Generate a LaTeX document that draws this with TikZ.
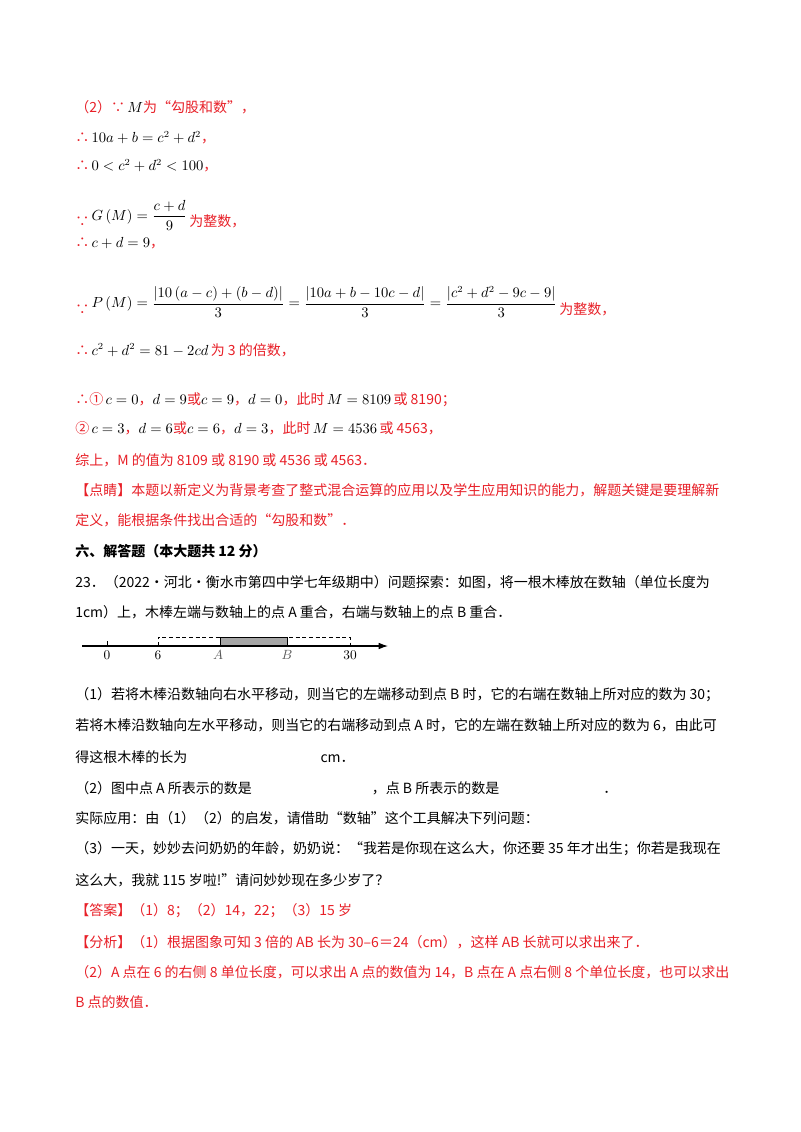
\documentclass[tikz,border=0pt]{standalone}
\usepackage{amsmath}
\usepackage{fontspec}
\setmainfont{Noto Sans CJK SC}
\usetikzlibrary{arrows.meta}
\definecolor{rd}{RGB}{232,32,40}
\begin{document}
\begin{tikzpicture}[x=0.75pt,y=-0.75pt,
  t/.style={anchor=west,inner sep=0pt,font=\fontsize{10.5}{12}\selectfont},
  r/.style={t,text=rd}]
\useasboundingbox (0,0) rectangle (800,1132);
\fill[white] (0,0) rectangle (800,1132);
\node[r] (l1) at (75,107) {（2）∵\,\textcolor{black}{$M$}为“勾股和数”，};
\node[r] (l2) at (75,138) {∴\,\textcolor{black}{$10a+b=c^2+d^2$}，};
\node[r] (l3) at (75,166) {∴\,\textcolor{black}{$0<c^2+d^2<100$}，};
\node[r] (l4) at (75,215) {∵\,\raisebox{5pt}{\textcolor{black}{$G\left(M\right)=\dfrac{c+d}{9}$}}\,为整数，};
\node[r] (l5) at (75,243) {∴\,\textcolor{black}{$c+d=9$}，};
\node[r] (l6) at (75,302) {∵\,\raisebox{5pt}{\textcolor{black}{$P\left(M\right)=\dfrac{\left|10\left(a-c\right)+\left(b-d\right)\right|}{3}=\dfrac{\left|10a+b-10c-d\right|}{3}=\dfrac{\left|c^2+d^2-9c-9\right|}{3}$}}\,为整数，};
\node[r] (l7) at (75,350) {∴\,\textcolor{black}{$c^2+d^2=81-2cd$}\,为 3 的倍数，};
\node[r] (l8) at (75,400) {∴①\,\textcolor{black}{$c=0$}，\textcolor{black}{$d=9$}或\textcolor{black}{$c=9$}，\textcolor{black}{$d=0$}，此时\,\textcolor{black}{$M=8109$}\,或 8190；};
\node[r] (l9) at (75,428) {②\,\textcolor{black}{$c=3$}，\textcolor{black}{$d=6$}或\textcolor{black}{$c=6$}，\textcolor{black}{$d=3$}，此时\,\textcolor{black}{$M=4536$}\,或 4563，};
\node[r] (l10) at (75,460) {综上，M 的值为 8109 或 8190 或 4536 或 4563．};
\node[r] (l11) at (75,490) {【点睛】本题以新定义为背景考查了整式混合运算的应用以及学生应用知识的能力，解题关键是要理解新};
\node[r] (l12) at (75,520) {定义，能根据条件找出合适的“勾股和数”．};
\node[t,font=\fontsize{10.5}{12}\selectfont\bfseries] (l13) at (75,551) {六、解答题（本大题共 12 分）};
\node[t] (l14) at (75,582) {23．（2022·河北·衡水市第四中学七年级期中）问题探索：如图，将一根木棒放在数轴（单位长度为};
\node[t] (l15) at (75,612) {1cm）上，木棒左端与数轴上的点 A 重合，右端与数轴上的点 B 重合．};
% number line
\coordinate (s) at (82,646); \coordinate (e) at (388,646);
\draw[densely dashed,line width=0.5pt] (158,646) -- (158,637) -- (350,637) -- (350,646);
\fill[gray!70] (220,637) rectangle (287,646);
\draw[line width=0.6pt] (220,637) rectangle (287,646);
\draw[line width=0.8pt,-{Latex[length=7pt,width=5pt]}] (s) -- (e);
\draw[line width=0.5pt] (107,646) -- (107,641);
\foreach \x/\l/\n in {107/0/n0,158/6/n6,350/30/n30}{\node[font=\fontsize{10}{12}\selectfont,inner sep=0pt] (\n) at (\x,655) {$\l$};}
\node[font=\fontsize{10}{12}\selectfont,inner sep=0pt,text=gray!70!black] (nA) at (218,655) {$A$};
\node[font=\fontsize{10}{12}\selectfont,inner sep=0pt,text=gray!70!black] (nB) at (287,655) {$B$};
\node[t] (l16) at (75,695) {（1）若将木棒沿数轴向右水平移动，则当它的左端移动到点 B 时，它的右端在数轴上所对应的数为 30；};
\node[t] (l17) at (75,725) {若将木棒沿数轴向左水平移动，则当它的右端移动到点 A 时，它的左端在数轴上所对应的数为 6，由此可};
\node[t] (l18) at (75,757) {得这根木棒的长为\hspace{100pt}cm．};
\node[t] (l19) at (75,788) {（2）图中点 A 所表示的数是\hspace{90pt}，点 B 所表示的数是\hspace{78pt}．};
\node[t] (l20) at (75,818) {实际应用：由（1）（2）的启发，请借助“数轴”这个工具解决下列问题：};
\node[t] (l21) at (75,849) {（3）一天，妙妙去问奶奶的年龄，奶奶说：“我若是你现在这么大，你还要 35 年才出生；你若是我现在};
\node[t] (l22) at (75,880) {这么大，我就 115 岁啦!”请问妙妙现在多少岁了？};
\node[r] (l23) at (75,911) {【答案】（1）8；（2）14，22；（3）15 岁};
\node[r] (l24) at (75,942) {【分析】（1）根据图象可知 3 倍的 AB 长为 30–6＝24（cm），这样 AB 长就可以求出来了．};
\node[r] (l25) at (75,972) {（2）A 点在 6 的右侧 8 单位长度，可以求出 A 点的数值为 14，B 点在 A 点右侧 8 个单位长度，也可以求出};
\node[r] (l26) at (75,1002) {B 点的数值．};
\end{tikzpicture}
\end{document}
